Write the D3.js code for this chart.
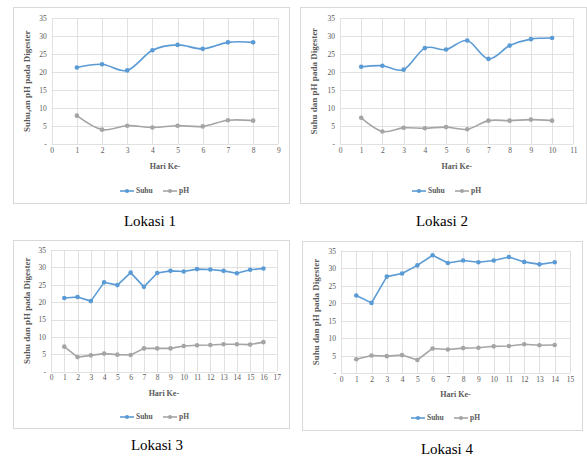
<!DOCTYPE html>
<html>
<head>
<meta charset="utf-8">
<script src="https://cdn.jsdelivr.net/npm/d3@7"></script>
<style>
  body { margin: 0; background: #fff; }
  svg { display: block; }
  text { font-family: "Liberation Serif", "DejaVu Serif", serif; }
</style>
</head>
<body>
<svg id="chart" width="587" height="459"></svg>
<script>
// Data
const hari1 = [1, 2, 3, 4, 5, 6, 7, 8];
const suhu1 = [21.3, 22.2, 20.5, 26.1, 27.6, 26.5, 28.3, 28.3];
const ph1   = [7.9, 4.0, 5.1, 4.6, 5.1, 4.9, 6.6, 6.5];

const hari2 = [1, 2, 3, 4, 5, 6, 7, 8, 9, 10];
const suhu2 = [21.5, 21.8, 20.7, 26.7, 26.3, 28.8, 23.7, 27.4, 29.2, 29.5];
const ph2   = [7.3, 3.5, 4.5, 4.4, 4.7, 4.1, 6.5, 6.5, 6.8, 6.5];

const hari3 = [1, 2, 3, 4, 5, 6, 7, 8, 9, 10, 11, 12, 13, 14, 15, 16];
const suhu3 = [21.2, 21.5, 20.3, 25.7, 24.9, 28.5, 24.4, 28.4, 29.0, 28.8, 29.5, 29.4, 29.0, 28.3, 29.3, 29.7];
const ph3   = [7.2, 4.2, 4.7, 5.2, 4.9, 4.8, 6.7, 6.7, 6.7, 7.4, 7.6, 7.7, 7.9, 7.9, 7.8, 8.5];

const hari4 = [1, 2, 3, 4, 5, 6, 7, 8, 9, 10, 11, 12, 13, 14];
const suhu4 = [22.2, 20.1, 27.6, 28.5, 30.8, 33.7, 31.5, 32.2, 31.7, 32.2, 33.2, 31.8, 31.1, 31.7];
const ph4   = [4.0, 5.1, 4.9, 5.2, 3.8, 7.1, 6.8, 7.2, 7.3, 7.7, 7.8, 8.3, 8.0, 8.1];

const yTicks = [0, 5, 10, 15, 20, 25, 30, 35];
const seriesNames = ['Suhu', 'pH'];
const xTitle = 'Hari Ke-';
const yTitles = ['Suhu,an pH pada Digester', 'Suhu dan pH pada Digester',
                 'Suhu dan pH pada Digester', 'Suhu dan pH pada Digester'];
const captions = ['Lokasi 1', 'Lokasi 2', 'Lokasi 3', 'Lokasi 4'];

const colors = ['#5B9BD5', '#A5A5A5'];
const gridColor = '#D9D9D9';
const textColor = '#595959';

// layout of each panel (pixels)
const panels = [
  { hari: hari1, suhu: suhu1, ph: ph1, xMax: 9,  smooth: true,
    box: [13, 7, 289, 203], plot: [51.7, 18.3, 278.3, 144], yTitleX: 28,
    tickY: 154, xTitleY: 167, legendY: 191, capX: 150, capY: 223 },
  { hari: hari2, suhu: suhu2, ph: ph2, xMax: 11, smooth: true,
    box: [300, 7, 586, 203], plot: [340, 18.3, 573.3, 144], yTitleX: 315,
    tickY: 154, xTitleY: 167, legendY: 191, capX: 442, capY: 223 },
  { hari: hari3, suhu: suhu3, ph: ph3, xMax: 17, smooth: false,
    box: [13, 240, 289, 428], plot: [51, 250, 276.7, 371.7], yTitleX: 28,
    tickY: 381, xTitleY: 394, legendY: 417, capX: 157, capY: 447 },
  { hari: hari4, suhu: suhu4, ph: ph4, xMax: 15, smooth: false,
    box: [302, 241, 582, 430], plot: [341, 250.7, 570, 373.3], yTitleX: 317,
    tickY: 383, xTitleY: 395, legendY: 418, capX: 447, capY: 451 }
];

const svg = d3.select('#chart');

panels.forEach((p, i) => {
  const [bx0, by0, bx1, by1] = p.box;
  const [px0, py0, px1, py1] = p.plot;

  const g = svg.append('g');

  // chart border
  g.append('rect')
    .attr('x', bx0 + 0.5).attr('y', by0 + 0.5)
    .attr('width', bx1 - bx0).attr('height', by1 - by0)
    .attr('fill', '#fff')
    .attr('stroke', gridColor)
    .attr('stroke-width', 1);

  const x = d3.scaleLinear().domain([0, p.xMax]).range([px0, px1]);
  const y = d3.scaleLinear().domain([0, 35]).range([py1, py0]);
  const xTicks = d3.range(0, p.xMax + 1);

  // grid
  g.append('g').selectAll('line.v').data(xTicks).enter()
    .append('line')
    .attr('class', 'v')
    .attr('x1', d => Math.round(x(d)) + 0.5).attr('x2', d => Math.round(x(d)) + 0.5)
    .attr('y1', py0).attr('y2', py1)
    .attr('stroke', gridColor).attr('stroke-width', 0.8);

  g.append('g').selectAll('line.h').data(yTicks).enter()
    .append('line')
    .attr('class', 'h')
    .attr('x1', px0).attr('x2', px1)
    .attr('y1', d => Math.round(y(d)) + 0.5).attr('y2', d => Math.round(y(d)) + 0.5)
    .attr('stroke', gridColor).attr('stroke-width', 0.8);

  // axes labels via d3 axes, without lines
  const xAxis = g.append('g')
    .attr('transform', `translate(0,${p.tickY - 6})`)
    .call(d3.axisBottom(x).tickValues(xTicks).tickSize(0).tickPadding(0));
  const yAxis = g.append('g')
    .attr('transform', `translate(${px0 - 5},0)`)
    .call(d3.axisLeft(y).tickValues(yTicks).tickSize(0).tickPadding(0)
      .tickFormat(d => d === 0 ? '-' : d));

  [xAxis, yAxis].forEach(a => {
    a.select('.domain').remove();
    a.selectAll('text')
      .attr('fill', textColor)
      .style('font-size', '7.5px')
      .style('font-family', '"Liberation Serif", serif');
  });
  xAxis.selectAll('text').attr('dy', '0.71em');

  // axis titles
  g.append('text')
    .attr('x', (px0 + px1) / 2).attr('y', p.xTitleY)
    .attr('text-anchor', 'middle')
    .attr('dominant-baseline', 'middle')
    .attr('fill', textColor)
    .style('font-size', '8px').style('font-weight', 'bold')
    .text(xTitle);

  g.append('text')
    .attr('transform', `translate(${p.yTitleX},${(py0 + py1) / 2}) rotate(-90)`)
    .attr('text-anchor', 'middle')
    .attr('dominant-baseline', 'middle')
    .attr('fill', textColor)
    .style('font-size', '9px').style('font-weight', 'bold')
    .text(yTitles[i]);

  // series
  const curve = p.smooth ? d3.curveCatmullRom.alpha(0) : d3.curveLinear;
  [p.suhu, p.ph].forEach((vals, s) => {
    const pts = p.hari.map((h, k) => [h, vals[k]]);
    const line = d3.line().x(d => x(d[0])).y(d => y(d[1])).curve(curve);
    g.append('path')
      .datum(pts)
      .attr('d', line)
      .attr('fill', 'none')
      .attr('stroke', colors[s])
      .attr('stroke-width', 1.6)
      .attr('stroke-linejoin', 'round');
    g.append('g').selectAll('circle').data(pts).enter()
      .append('circle')
      .attr('cx', d => x(d[0])).attr('cy', d => y(d[1]))
      .attr('r', 2.3)
      .attr('fill', colors[s]);
  });

  // legend
  const cx = (bx0 + bx1) / 2;
  const legendX = [cx - 31, cx + 12];
  seriesNames.forEach((name, s) => {
    const lx = legendX[s];
    g.append('line')
      .attr('x1', lx).attr('x2', lx + 14)
      .attr('y1', p.legendY).attr('y2', p.legendY)
      .attr('stroke', colors[s]).attr('stroke-width', 1.6);
    g.append('circle')
      .attr('cx', lx + 7).attr('cy', p.legendY).attr('r', 2.1)
      .attr('fill', colors[s]);
    g.append('text')
      .attr('x', lx + 16).attr('y', p.legendY)
      .attr('dominant-baseline', 'middle')
      .attr('fill', textColor)
      .style('font-size', '7.5px').style('font-weight', 'bold')
      .text(name);
  });

  // caption below the chart
  svg.append('text')
    .attr('x', p.capX).attr('y', p.capY)
    .attr('text-anchor', 'middle')
    .attr('dominant-baseline', 'middle')
    .attr('fill', '#000')
    .style('font-size', '15px')
    .style('font-family', '"Liberation Serif", "Times New Roman", serif')
    .text(captions[i]);
});
</script>
</body>
</html>
